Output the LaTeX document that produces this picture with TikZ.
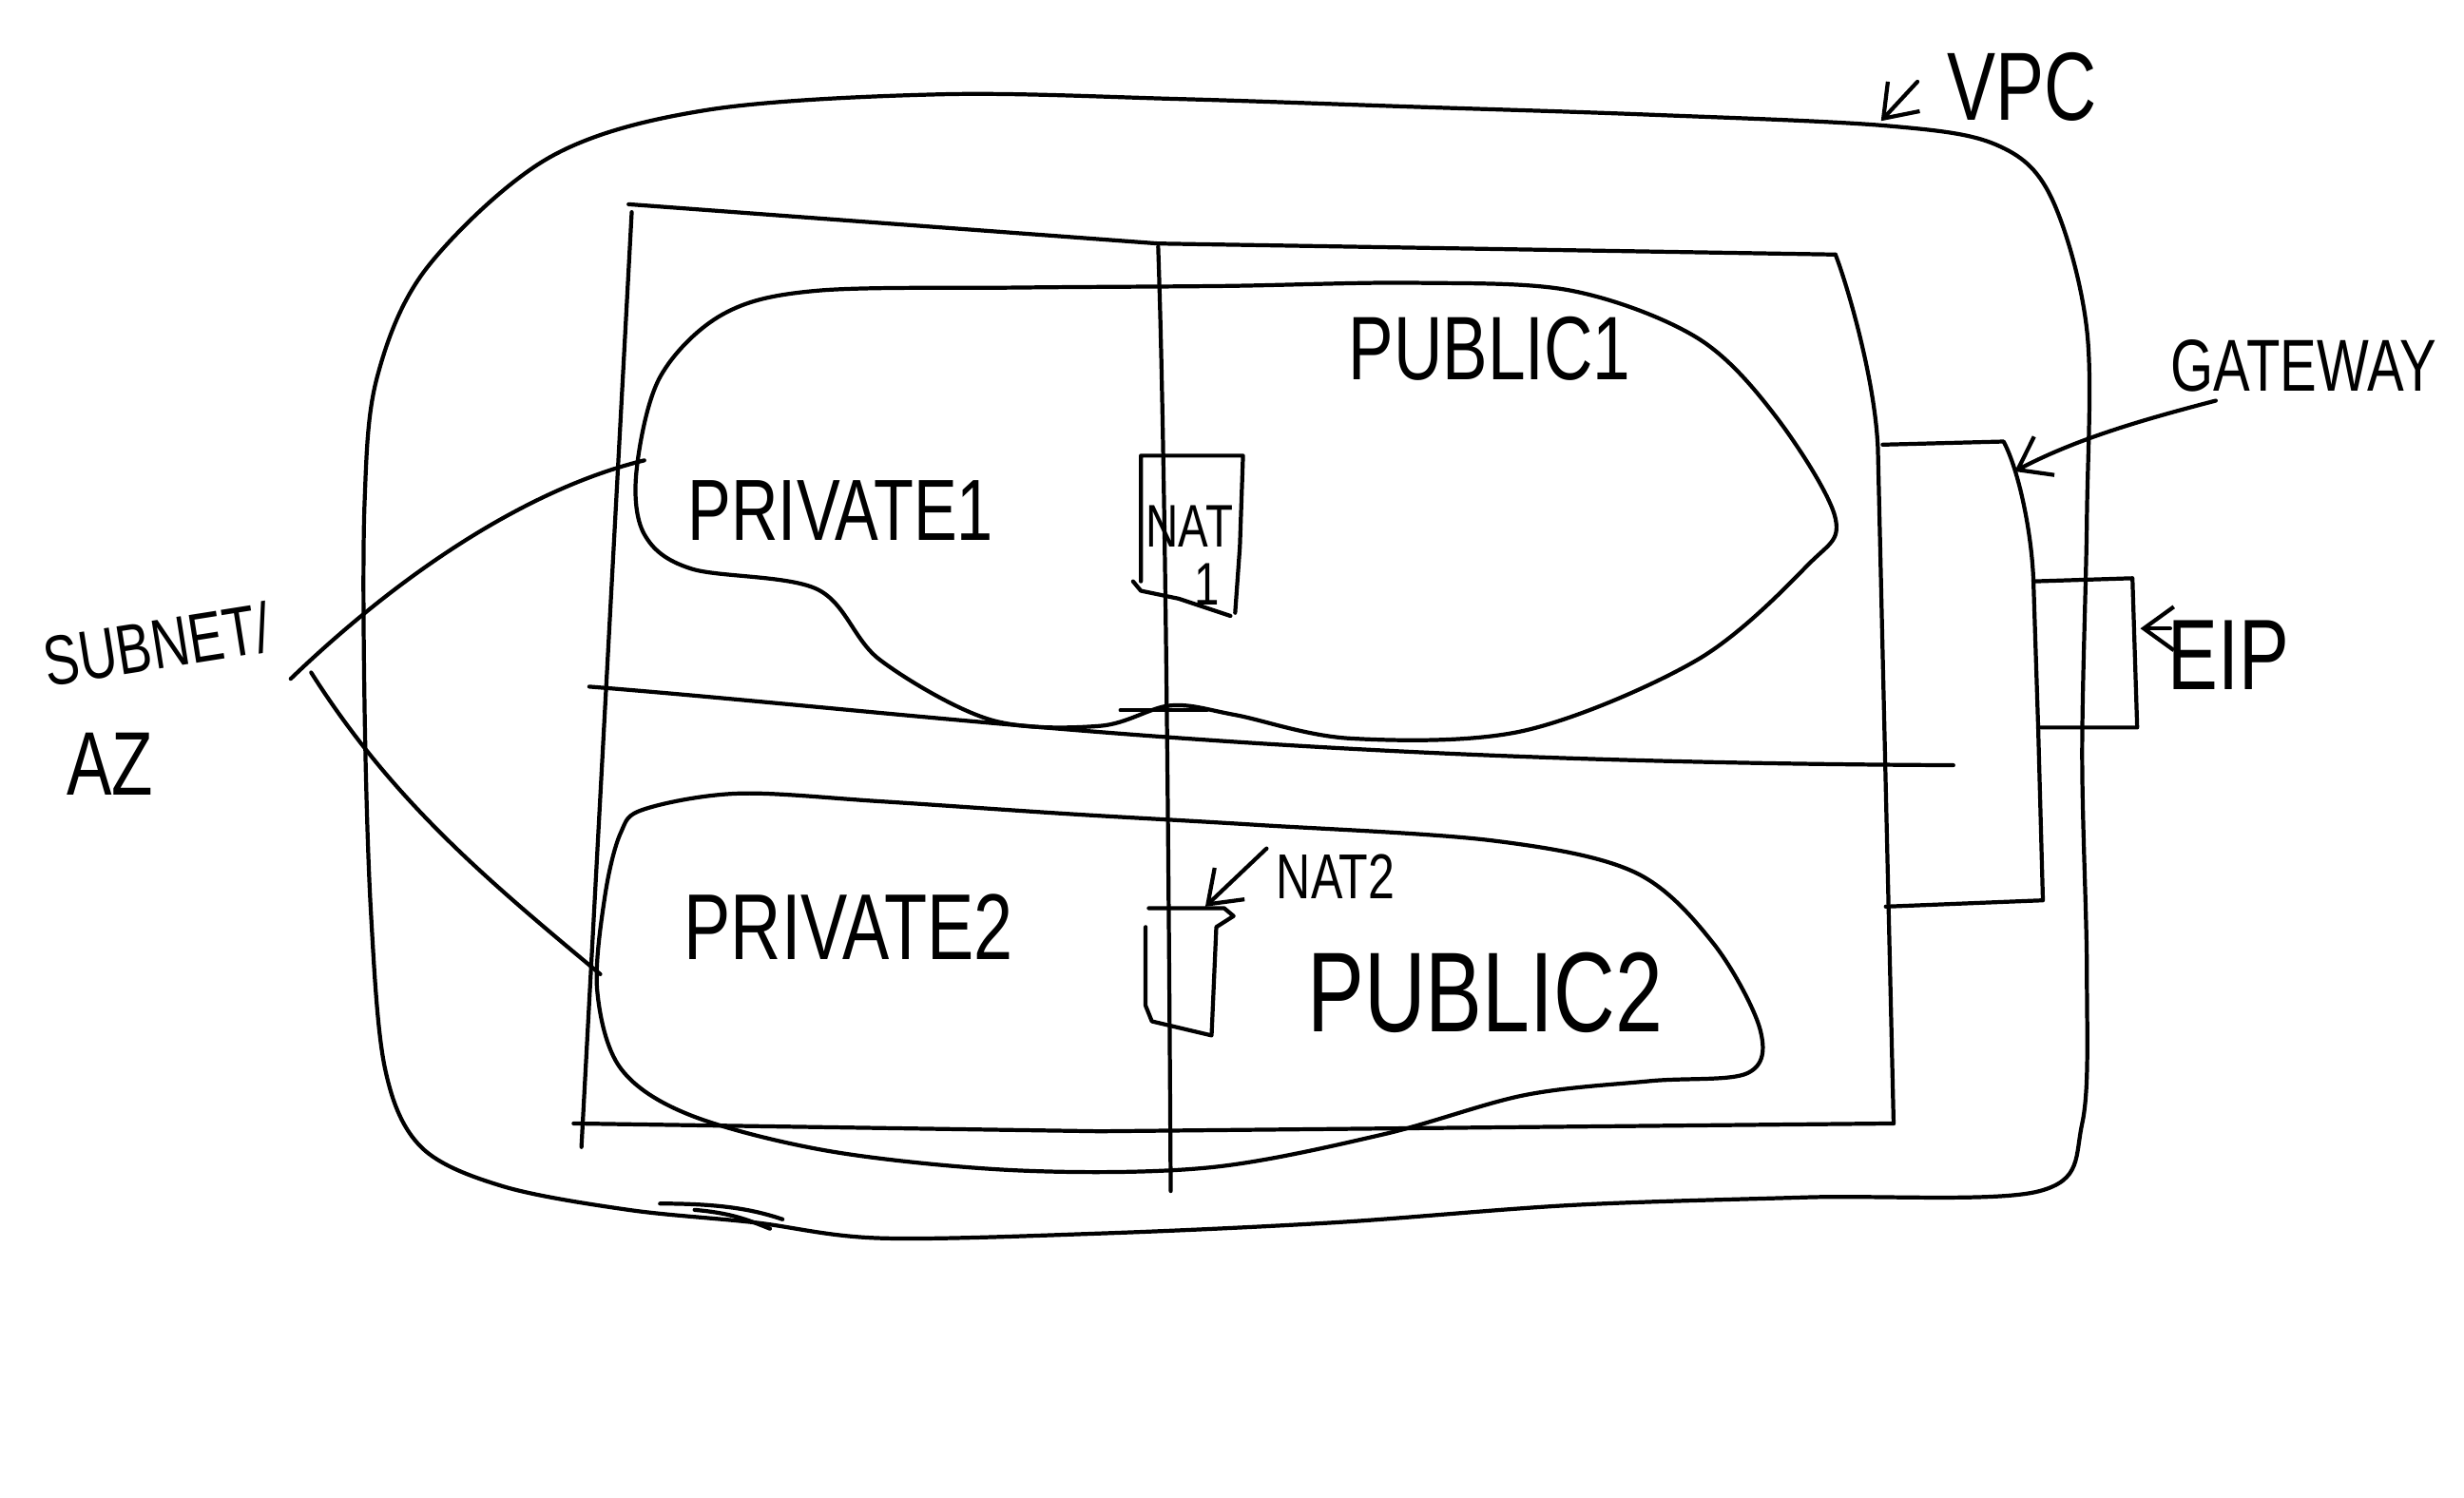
\documentclass[tikz,border=0pt]{standalone}
\usepackage{fontspec}
\usepackage{graphicx}
\setmainfont{Liberation Sans}
\usetikzlibrary{arrows.meta}
\newcommand\nar[1]{\scalebox{0.75}[1]{#1}}
\begin{document}
\begin{tikzpicture}[x=0.01653cm,y=-0.01653cm,line width=1.2pt,line cap=round,line join=round,
  lbl/.style={inner sep=0pt,font=\fontsize{#1}{#1}\selectfont},
  arr/.style={-{Straight Barb[length=9pt,width=13pt,line width=1.2pt]}}]
\fill[white] (0,0) rectangle (1568,953);
\useasboundingbox (0,0) rectangle (1568,953);

% VPC outline
\draw plot[smooth cycle,tension=0.55] coordinates {(350,100)(450,70)(600,60)(750,63)(900,68)(1050,73)(1200,80)(1270,92)(1305,125)(1328,210)(1328,330)(1325,480)(1328,620)(1325,715)(1298,758)(1150,762)(1000,767)(850,778)(700,785)(560,788)(480,778)(400,770)(320,755)(268,730)(245,680)(236,580)(232,450)(232,320)(240,240)(272,170)};
% bottom scribble
\draw (420,766) .. controls (460,766) and (480,770) .. (498,776);
\draw (442,770) .. controls (465,772) and (475,776) .. (490,782);

% AZ rectangle and split lines
\draw (400,130) -- (737,155) -- (1168,162);
\draw (402,135) -- (370,730);
\draw (1168,162) .. controls (1175,180) and (1193,240) .. (1195,285) -- (1200,500) -- (1205,715);
\draw (365,715) -- (700,720) -- (1205,715);
\draw (375,437) .. controls (600,455) and (800,485) .. (1243,487);
\draw (737,157) .. controls (742,300) and (744,600) .. (745,758);

% Private1 / Public1 region
\draw plot[smooth cycle,tension=0.55] coordinates {(520,185)(650,183)(780,182)(900,180)(1000,185)(1080,215)(1130,265)(1168,330)(1150,360)(1080,420)(970,465)(860,470)(786,455)(745,449)(700,462)(630,458)(560,420)(520,375)(440,362)(410,340)(405,300)(420,240)(460,200)};
\draw (713,452) -- (768,452);

% Private2 / Public2 region
\draw plot[smooth cycle,tension=0.55] coordinates {(410,515)(470,505)(560,510)(680,518)(800,525)(950,535)(1040,555)(1090,600)(1120,655)(1112,683)(1050,688)(970,697)(880,722)(770,743)(650,745)(530,733)(440,710)(395,680)(380,630)(385,570)(395,530)};

% Gateway
\draw (1198,283) -- (1275,281) .. controls (1285,300) and (1293,340) .. (1294,370) -- (1297,463) -- (1300,573) -- (1200,577);
% EIP box
\draw (1294,370) -- (1357,368) -- (1360,463) -- (1297,463);

% NAT1 box
\draw (726,370) -- (726,290) -- (791,290) -- (789,348) -- (786,390);
\draw (721,370) -- (726,376) -- (750,381) -- (783,392);
% NAT2 box
\draw (731,578) -- (779,578) -- (785,583) -- (774,590) -- (771,659) -- (733,650) -- (729,640) -- (729,590);

% labels
\node[lbl=29] (vpc) at (1287,55) {\nar{VPC}};
\node[lbl=22] (gw) at (1466,233) {\nar{GATEWAY}};
\node[lbl=30] (eip) at (1418,417) {\nar{EIP}};
\node[lbl=21,rotate=9] (subnet) at (100,410) {\nar{SUBNET/}};
\node[lbl=27] (az) at (70,486) {\nar{AZ}};
\node[lbl=26] (priv1) at (535,325) {\nar{PRIVATE1}};
\node[lbl=27] (pub1) at (948,222) {\nar{PUBLIC1}};
\node[lbl=28] (priv2) at (540,590) {\nar{PRIVATE2}};
\node[lbl=34] (pub2) at (945,632) {\nar{PUBLIC2}};
\node[lbl=18] (nat1) at (757,335) {\nar{NAT}};
\node[lbl=18] (nat1n) at (768,372) {\nar{1}};
\node[lbl=19] (nat2) at (850,558) {\nar{NAT2}};

% arrow ends
\coordinate (vpcT) at (1197,77);
\coordinate (gwS) at (1410,255);
\coordinate (gwT) at (1282,300);
\coordinate (eipS) at (1381,400);
\coordinate (eipT) at (1362,400);
\coordinate (nat2S) at (806,540);
\coordinate (nat2T) at (767,577);
\coordinate (sA) at (185,432);
\coordinate (sB) at (198,428);
\coordinate (p1) at (410,293);
\coordinate (p2) at (382,620);

\draw[arr] (vpc.west) ++(-18,-3) -- (vpcT);
\draw[arr] (gwS) .. controls (1360,268) and (1320,280) .. (gwT);
\draw[arr] (eipS) -- (eipT);
\draw[arr] (nat2S) -- (nat2T);
\draw (sA) .. controls (260,360) and (340,310) .. (p1);
\draw (sB) .. controls (250,510) and (310,560) .. (p2);
\end{tikzpicture}
\end{document}
